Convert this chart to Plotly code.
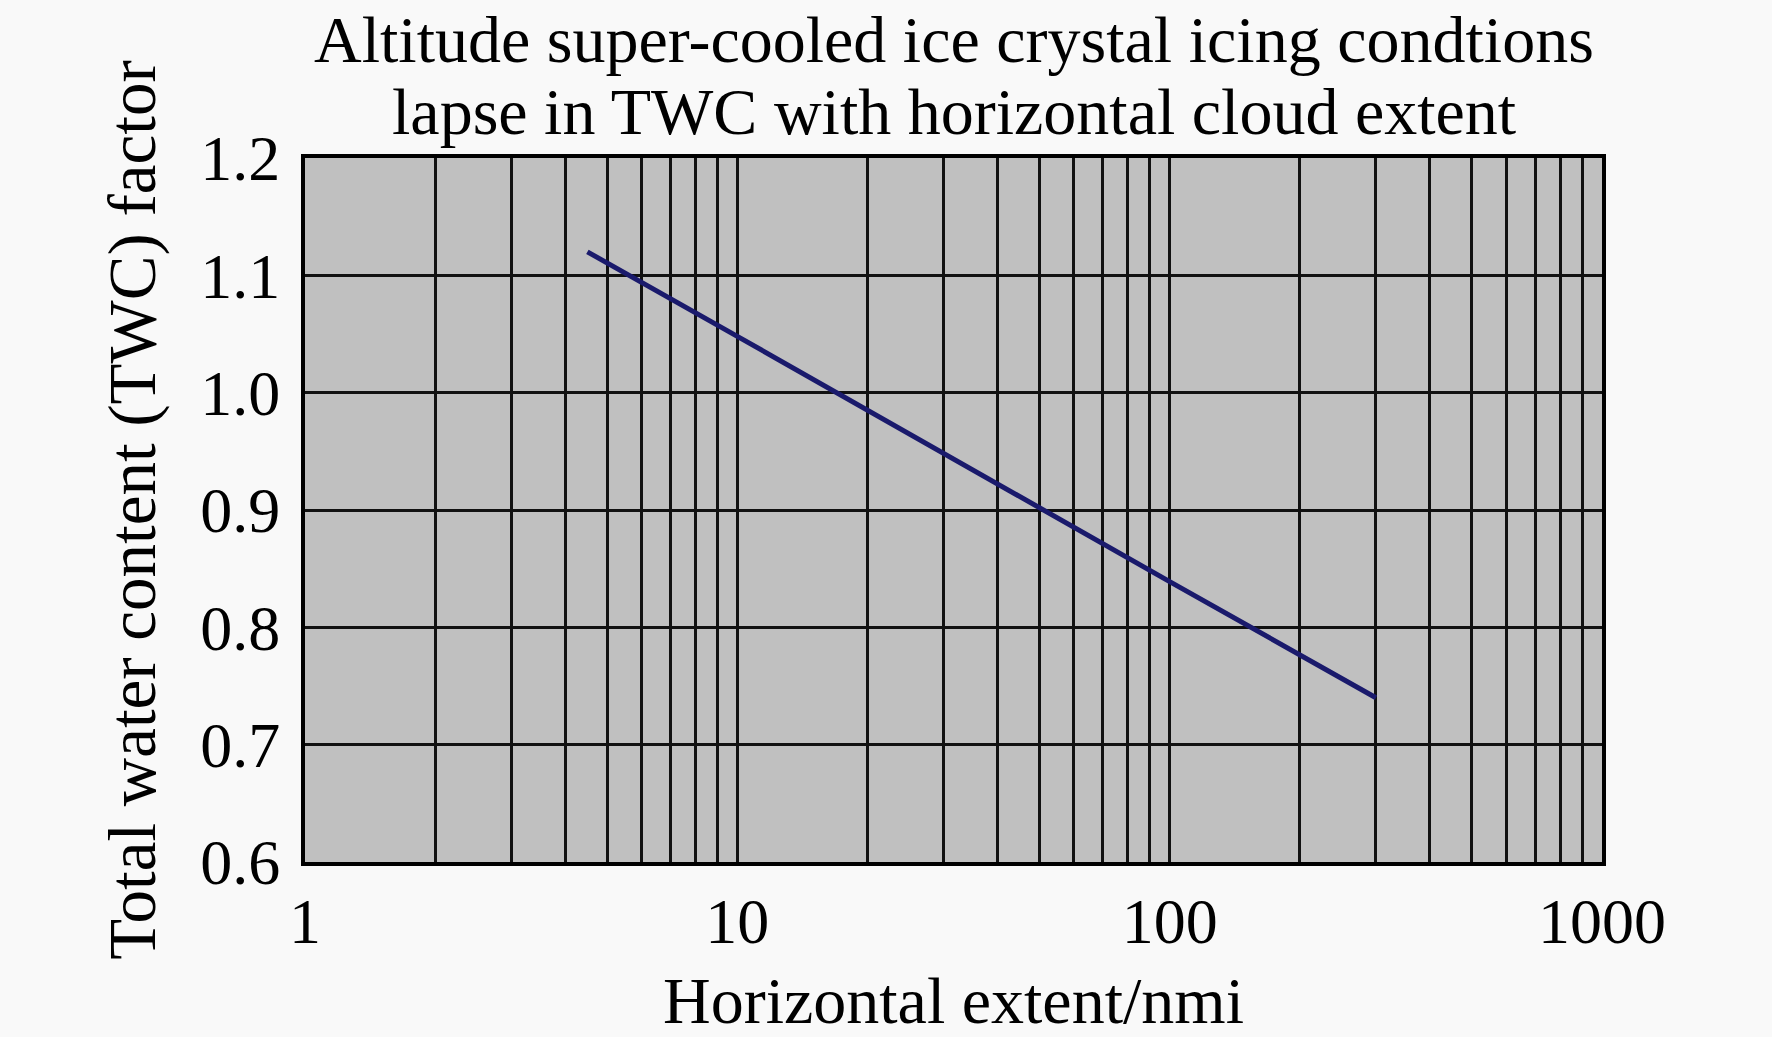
import plotly.graph_objects as go

# curve (log x)
extent_nmi = [4.5, 10, 100, 300]
twc_factor = [1.12, 1.048, 0.839, 0.74]

decades = [1, 10, 100, 1000]
decade_labels = ["1", "10", "100", "1000"]
y_ticks = [0.6, 0.7, 0.8, 0.9, 1.0, 1.1, 1.2]

title_lines = ["Altitude super-cooled ice crystal icing condtions",
               "lapse in TWC with horizontal cloud extent"]

# gridlines at 1..9 of every decade, labels only on the decades
grid_vals = []
grid_text = []
for d in decades[:-1]:
    for m in range(1, 10):
        grid_vals.append(d * m)
        grid_text.append(decade_labels[decades.index(d)] if m == 1 else "")
grid_vals.append(decades[-1])
grid_text.append(decade_labels[-1])

font = "Liberation Serif, Times New Roman, serif"
top, bottom = 158, 868

fig = go.Figure()
fig.add_trace(go.Scatter(
    x=extent_nmi, y=twc_factor, mode="lines",
    line=dict(color="#1a1a6c", width=5),
    showlegend=False,
))

fig.update_layout(
    width=1772, height=1037,
    margin=dict(l=305, r=170, t=top, b=1037 - bottom),
    paper_bgcolor="#f9f9f9",
    plot_bgcolor="#c0c0c0",
    font=dict(family=font, size=64, color="#000000"),
    annotations=[
        dict(text=title_lines[0], x=0.5, y=(bottom - 38) / (bottom - top),
             xref="paper", yref="paper", yanchor="middle",
             showarrow=False, font=dict(size=66)),
        dict(text=title_lines[1], x=0.5, y=(bottom - 111) / (bottom - top),
             xref="paper", yref="paper", yanchor="middle",
             showarrow=False, font=dict(size=66)),
    ],
)

fig.update_xaxes(
    type="log", range=[0, 3],
    tickvals=grid_vals, ticktext=grid_text,
    showgrid=True, gridcolor="#111111", gridwidth=2.7,
    showline=True, linecolor="#000000", linewidth=4, mirror=True,
    ticks="", ticklen=0, ticklabelstandoff=0,
    tickfont=dict(size=64),
    title=dict(text="Horizontal extent/nmi", font=dict(size=66), standoff=22),
    zeroline=False,
)
fig.update_yaxes(
    range=[0.6, 1.2], tickvals=y_ticks, tickformat=".1f",
    showgrid=True, gridcolor="#111111", gridwidth=2.7,
    showline=True, linecolor="#000000", linewidth=4, mirror=True,
    ticks="", ticklen=0, ticklabelstandoff=8,
    tickfont=dict(size=64),
    title=dict(text="Total water content (TWC) factor", font=dict(size=67), standoff=24),
    zeroline=False,
)

fig.write_html("out.html", config={"displayModeBar": False},
               post_script="document.body.style.margin='0';")
